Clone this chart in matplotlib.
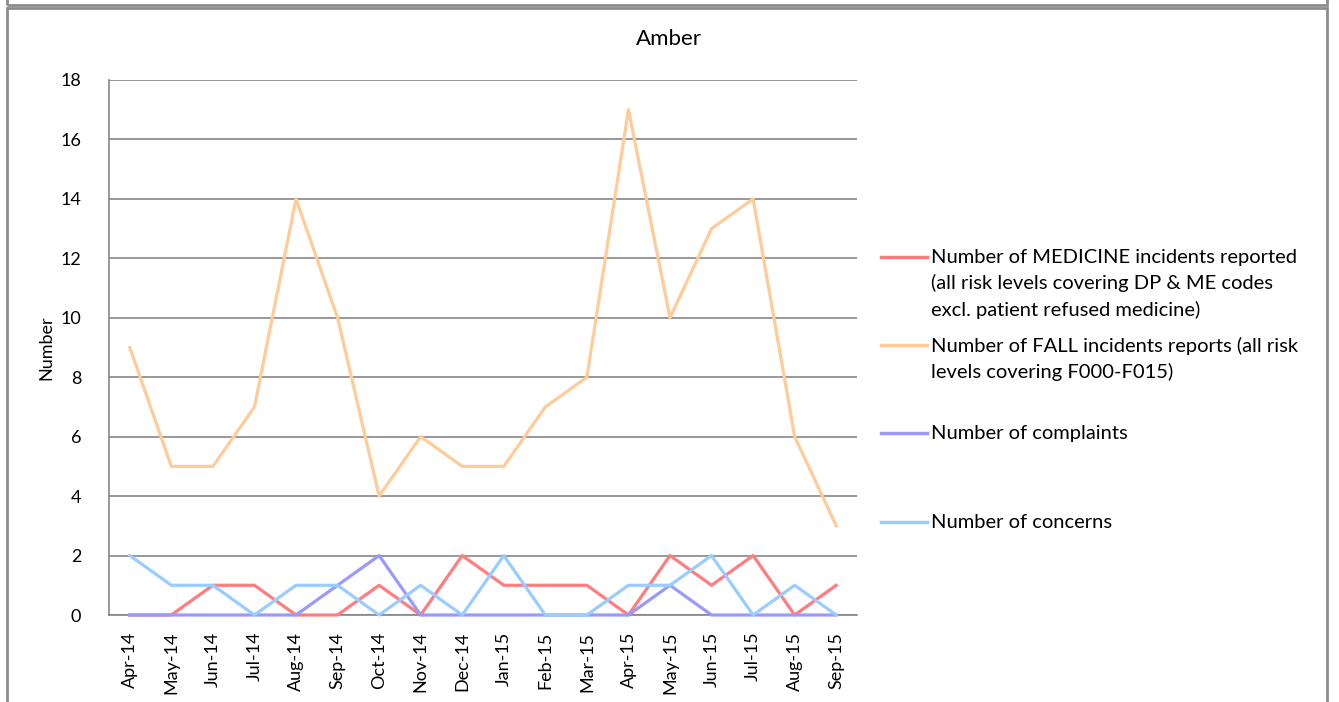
import matplotlib
matplotlib.use('Agg')
import matplotlib.pyplot as plt
from matplotlib.lines import Line2D
from matplotlib.patches import Rectangle

plt.rcParams['font.family'] = ['Lato', 'DejaVu Sans']

months = ['Apr-14', 'May-14', 'Jun-14', 'Jul-14', 'Aug-14', 'Sep-14', 'Oct-14', 'Nov-14', 'Dec-14',
          'Jan-15', 'Feb-15', 'Mar-15', 'Apr-15', 'May-15', 'Jun-15', 'Jul-15', 'Aug-15', 'Sep-15']
medicine = [0, 0, 1, 1, 0, 0, 1, 0, 2, 1, 1, 1, 0, 2, 1, 2, 0, 1]
falls = [9, 5, 5, 7, 14, 10, 4, 6, 5, 5, 7, 8, 17, 10, 13, 14, 6, 3]
complaints = [0, 0, 0, 0, 0, 1, 2, 0, 0, 0, 0, 0, 0, 1, 0, 0, 0, 0]
concerns = [2, 1, 1, 0, 1, 1, 0, 1, 0, 2, 0, 0, 1, 1, 2, 0, 1, 0]

labels = ['Number of MEDICINE incidents reported\n(all risk levels covering DP & ME codes\nexcl. patient refused medicine)',
          'Number of FALL incidents reports (all risk\nlevels covering F000-F015)',
          'Number of complaints',
          'Number of concerns']
colors = ['#FF7C80', '#FFCC99', '#9999FF', '#99CCFF']
series = [medicine, falls, complaints, concerns]

W, H = 1339, 702
fig = plt.figure(figsize=(W / 100, H / 100), dpi=100)

# outer frames
fig.patches.append(Rectangle((7 / W, 1 - 5 / H), 1320 / W, 10 / H, transform=fig.transFigure,
                             fill=False, edgecolor='#8c8c8c', lw=2))
fig.patches.append(Rectangle((7 / W, -0.05), 1320 / W, 1 - 8 / H + 0.05, transform=fig.transFigure,
                             fill=False, edgecolor='#8c8c8c', lw=2))

ax = fig.add_axes([109 / W, 1 - 615 / H, (857 - 109) / W, (615 - 80) / H])
x = list(range(len(months)))
for s, c in zip(series, colors):
    ax.plot(x, s, color=c, lw=2.3, clip_on=False, zorder=3)

ax.set_xlim(-0.5, len(months) - 0.5)
ax.set_ylim(0, 18)
ax.set_yticks(range(0, 19, 2))
ax.set_xticks(x)
ax.set_xticklabels(months, rotation=90, fontsize=13)
ax.tick_params(axis='y', labelsize=13, length=0, pad=20)
ax.tick_params(axis='x', length=0, pad=12)
ax.grid(axis='y', color='#868686', lw=1.2)
ax.set_axisbelow(True)
for sp in ['top', 'right']:
    ax.spines[sp].set_visible(False)
for sp in ['left', 'bottom']:
    ax.spines[sp].set_color('#868686')
    ax.spines[sp].set_linewidth(1.2)
ax.set_ylabel('Number', fontsize=13, labelpad=4)
fig.text(669 / W, 1 - 39 / H, 'Amber', ha='center', va='center', fontsize=16)

# legend
leg_y = [257, 345, 433, 522]
for yy, lab, c in zip(leg_y, labels, colors):
    fig.add_artist(Line2D([881 / W, 927 / W], [1 - yy / H] * 2, color=c, lw=2.5,
                          transform=fig.transFigure))
    fig.text(931 / W, 1 - (yy - 8) / H, lab, ha='left', va='top', fontsize=14.5, linespacing=1.55)

fig.savefig('out.png', dpi=100)
